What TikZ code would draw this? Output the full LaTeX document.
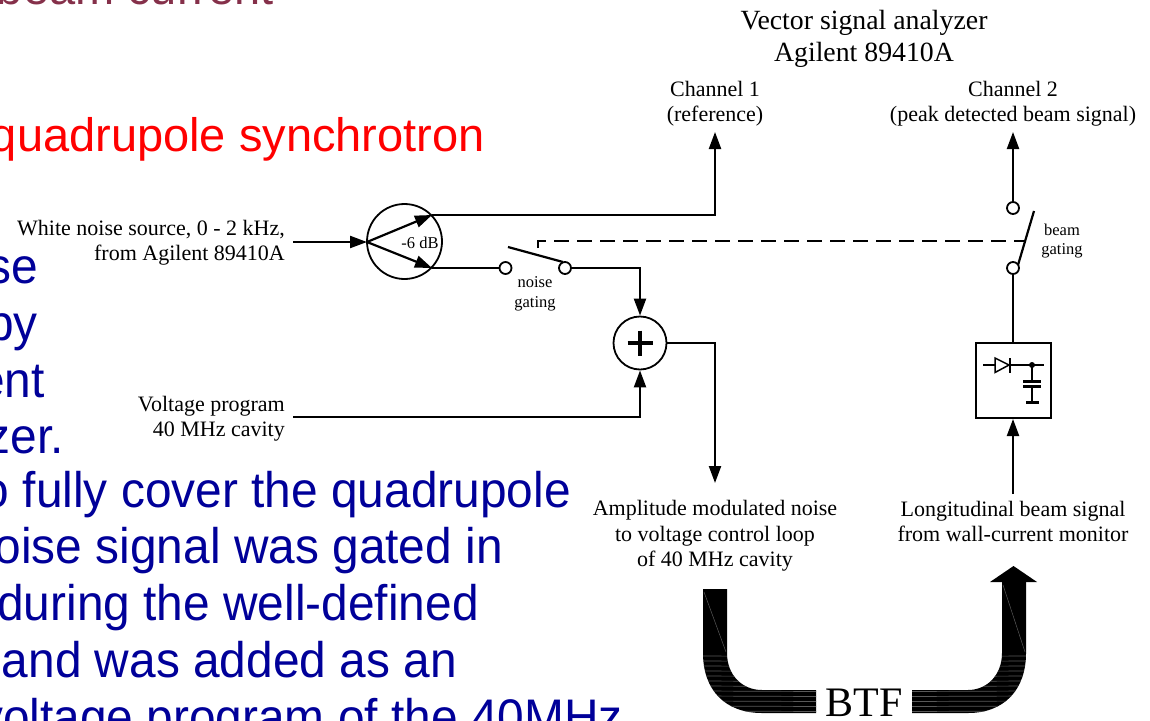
\documentclass[tikz,border=0pt]{standalone}
\usepackage{fontspec}
\setmainfont{Liberation Serif}
\newfontfamily\arialf{Liberation Sans}
\newfontfamily\arialn[FakeStretch=0.957]{Liberation Sans}
\usetikzlibrary{arrows.meta,calc}
\definecolor{slideblue}{HTML}{000099}
\definecolor{slidered}{HTML}{FF0000}
\definecolor{slidewine}{HTML}{85304A}
\tikzset{
 x=1pt,y=-1pt,
 wire/.style={line width=2.2pt,black},
 sig/.style={wire,-{Triangle[length=17pt,width=12pt]}},
 lab/.style={font=\fontsize{22}{25.3}\selectfont,align=center,inner sep=0pt},
 labr/.style={font=\fontsize{22}{25.3}\selectfont,align=right,inner sep=0pt,anchor=east},
 small/.style={font=\fontsize{16.5}{19.5}\selectfont,align=center,inner sep=0pt},
 contact/.style={circle,draw,line width=1.8pt,fill=white,minimum size=12pt,inner sep=0pt},
 bluetext/.style={font=\arialn\fontsize{50}{57}\selectfont,text=slideblue,anchor=base east,inner sep=0pt},
 streak/.style={line width=0.7pt,white!35!black},
}
\begin{document}
\begin{tikzpicture}
\useasboundingbox (0,0) rectangle (1150,720);
\clip (0,0) rectangle (1150,720);
% slide text behind the figure
\node[font=\arialf\fontsize{47}{57}\selectfont,text=slidewine,anchor=base east,inner sep=0pt] (t0) at (274,5) {beam current};
\node[font=\arialf\fontsize{47}{57}\selectfont,text=slidered,anchor=base east,inner sep=0pt] (t1) at (485,151) {quadrupole synchrotron};
\node[bluetext] (b1) at (38,283) {se};
\node[bluetext] (b2) at (38,340) {by};
\node[bluetext] (b3) at (45,397) {ent};
\node[bluetext] (b4) at (64,453) {zer.};
\node[bluetext] (b5) at (571,507) {to fully cover the quadrupole};
\node[bluetext] (b6) at (503,563) {noise signal was gated in};
\node[bluetext] (b7) at (479,620) {during the well-defined};
\node[bluetext] (b8) at (457,677) {and was added as an};
\node[bluetext] (b9) at (623,734) {voltage program of the 40MHz};
% labels
\node[font=\fontsize{27.8}{32}\selectfont,align=center,inner sep=0pt] (vsa) at (864,39) {Vector signal analyzer\\Agilent 89410A};
\node[lab] (ch1) at (715,103.5) {Channel 1\\(reference)};
\node[lab] (ch2) at (1013,103.5) {Channel 2\\(peak detected beam signal)};
\node[labr] (wn) at (285,243) {White noise source, 0 - 2 kHz,\\from Agilent 89410A};
\node[labr] (vp) at (285,418.5) {Voltage program\\40 MHz cavity};
\node[lab] (am) at (715,536) {Amplitude modulated noise\\to voltage control loop\\of 40 MHz cavity};
\node[lab] (lb) at (1013,521.5) {Longitudinal beam signal\\from wall-current monitor};
\node[small] (ng) at (535,294) {noise\\gating};
\node[small] (bg) at (1062,241) {beam\\gating};
% splitter
\node[circle,draw,line width=1.8pt,minimum size=75pt,inner sep=0pt] (split) at (404.5,241.5) {};
\coordinate (sin) at (367,242);
\coordinate (sa) at (432,215);
\coordinate (sb) at (432,268);
\node[font=\fontsize{16.5}{18}\selectfont,inner sep=0pt] (db) at (420,243) {-6 dB};
\coordinate (wnr) at (293,242);
\draw[sig] (wnr) -- (sin);
\draw[sig] (sin) -- (sa);
\draw[sig] (sin) -- (sb);
% noise gating switch
\node[contact] (s1) at (505.5,268) {};
\node[contact] (s2) at (565,268) {};
\coordinate (arm1) at (508,247);
\coordinate (arm2) at (563,262);
\draw[wire] (arm1) -- (arm2);
\draw[wire] (sb) -- (s1);
% summing junction
\node[circle,draw,line width=1.8pt,minimum size=53pt,inner sep=0pt] (sum) at (640,343) {};
\draw[line width=4.5pt] ($(sum)+(-12.5,0)$) -- ($(sum)+(12.5,0)$) ($(sum)+(0,-12.5)$) -- ($(sum)+(0,12.5)$);
\draw[sig] (s2) -| (sum.north);
\coordinate (vpr) at (293,417);
\draw[sig] (vpr) -| (sum.south);
\coordinate (amtop) at (715,483);
\draw[sig] (sum.east) -| (amtop);
% channel 1
\coordinate (ch1b) at (715,132);
\draw[sig] (sa) -| (ch1b);
% beam switch
\node[contact] (s3) at (1013,208) {};
\node[contact] (s4) at (1013,268) {};
\coordinate (arm3) at (1034,211);
\coordinate (arm4) at (1018,265);
\draw[wire] (arm3) -- (arm4);
\coordinate (ch2b) at (1013,132);
\draw[sig] (s3) -- (ch2b);
\coordinate (dl) at (538,248);
\coordinate (dc) at (538,241);
\coordinate (dr) at (1024,241);
\draw[wire,dash pattern=on 15pt off 8pt] (dl) -- (dc) -- (dr);
% detector box
\node[draw,line width=2pt,minimum size=75pt,inner sep=0pt] (det) at (1013.5,380.5) {};
\draw[wire] (s4) -- (s4 |- det.north);
\coordinate (lbt) at (1013,494);
\draw[sig] (lbt) -- (lbt |- det.south);
\coordinate (dA) at (983,365);
\coordinate (dB) at (1044,365);
\coordinate (dJ) at (1032,365);
\draw[line width=1.5pt] (dA) -- (dB);
\draw[line width=1.5pt,fill=white] (995,358) -- (1009,365) -- (995,372.5) -- cycle;
\draw[line width=1.5pt] (1010,358) -- (1010,372.5);
\fill (dJ) circle (3pt);
\draw[line width=1.5pt] (dJ) -- (1032,381);
\draw[line width=3pt] (1023,381) -- (1041,381);
\draw[line width=3pt] (1023,386.5) -- (1041,386.5);
\draw[line width=1.5pt] (1032,387) -- (1032,402);
\draw[line width=3pt] (1026,402) -- (1039,402);
% BTF
\node[font=\fontsize{42}{44}\selectfont,inner sep=0pt] (btf) at (864,702.5) {BTF};
\fill (703,589) -- (727,589) -- (727,653) .. controls (727,675) and (742,690) .. (762,690) -- (816,690) -- (816,713) -- (762,713) .. controls (725,713) and (703,690) .. (703,653) -- cycle;
\fill (912,713) -- (968,713) .. controls (1004,713) and (1026,690) .. (1026,653) -- (1026,582) -- (1002,582) -- (1002,653) .. controls (1002,675) and (987,690) .. (968,690) -- (912,690) -- cycle;
\fill (990,582) -- (1013.5,566) -- (1037,582) -- cycle;
\begin{scope}
\clip (703,589) -- (727,589) -- (727,653) .. controls (727,675) and (742,690) .. (762,690) -- (816,690) -- (816,713) -- (762,713) .. controls (725,713) and (703,690) .. (703,653) -- cycle;
\foreach \yy in {656,661,...,711} \draw[streak] (700,\yy) -- (820,\yy+0.5);
\draw[streak,line width=.5pt] (704,592) -- (726,652);
\end{scope}
\begin{scope}
\clip (912,713) -- (968,713) .. controls (1004,713) and (1026,690) .. (1026,653) -- (1026,582) -- (1002,582) -- (1002,653) .. controls (1002,675) and (987,690) .. (968,690) -- (912,690) -- cycle;
\foreach \yy in {656,661,...,711} \draw[streak] (910,\yy+0.5) -- (1030,\yy);
\draw[streak,line width=.5pt] (1003,585) -- (1025,652);
\end{scope}
\end{tikzpicture}
\end{document}
